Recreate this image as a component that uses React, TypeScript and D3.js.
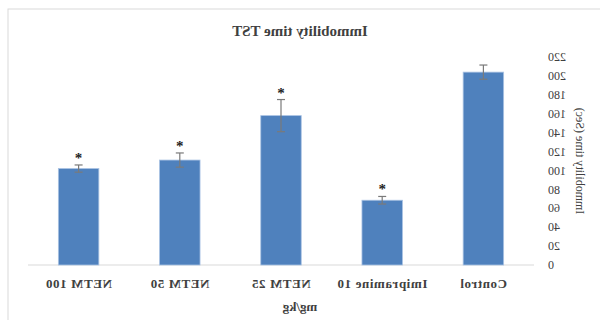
import React from "react";
import * as d3 from "d3";

const groups = ["Control", "Imipramine 10", "NETM 25", "NETM 50", "NETM 100"];
const means = [204, 68.5, 158, 111, 102];
const errors = [7.5, 4, 17, 7.5, 3.8];
const significant = [false, true, true, true, true];
const yTicks = [0, 20, 40, 60, 80, 100, 120, 140, 160, 180, 200, 220];

const width = 600;
const height = 320;
const margin = { top: 57, right: 28, bottom: 55, left: 66 };

export default function App() {
  const innerW = width - margin.left - margin.right;
  const innerH = height - margin.top - margin.bottom;

  const x = d3.scaleBand().domain(groups).range([0, innerW]).paddingInner(0.6).paddingOuter(0.3);
  const y = d3.scaleLinear().domain([0, 220]).range([innerH, 0]);

  const font = "'Liberation Serif', 'Times New Roman', serif";
  const textCol = "#404040";

  return (
    <svg width={width} height={height} style={{ position: "absolute", left: 0, top: 0 }} fontFamily={font}>
      <rect width={width} height={height} fill="#fff" />
      {/* whole chart is drawn normally, then flipped like the source image */}
      <g transform={`translate(${width},0) scale(-1,1)`}>
        <rect x={-2} y={9} width={594} height={320} fill="#fff" stroke="#d9d9d9" />
        <text x={300} y={36} textAnchor="middle" fontSize={15} fontWeight="bold" fill={textCol}>
          Immobility time TST
        </text>
        <g transform={`translate(${margin.left},${margin.top})`}>
          <line x1={0} x2={innerW} y1={innerH} y2={innerH} stroke="#d9d9d9" />
          {yTicks.map(t => (
            <text key={t} x={-14} y={y(t)} dy="0.35em" textAnchor="end" fontSize={12} fill={textCol}>
              {t}
            </text>
          ))}
          {groups.map((g, i) => {
            const cx = x(g)! + x.bandwidth() / 2;
            return (
              <g key={g}>
                <rect x={x(g)} y={y(means[i])} width={x.bandwidth()} height={innerH - y(means[i])}
                  fill="#4f81bd" stroke="#a9c2e3" strokeWidth={0.8} />
                <line x1={cx} x2={cx} y1={y(means[i] - errors[i])} y2={y(means[i] + errors[i])} stroke="#7a7a7a" strokeWidth={1.2} />
                <line x1={cx - 4} x2={cx + 4} y1={y(means[i] + errors[i])} y2={y(means[i] + errors[i])} stroke="#7a7a7a" strokeWidth={1.2} />
                <line x1={cx - 4} x2={cx + 4} y1={y(means[i] - errors[i])} y2={y(means[i] - errors[i])} stroke="#7a7a7a" strokeWidth={1.2} />
                {significant[i] && (
                  <text x={cx} y={y(means[i] + errors[i]) - 2} textAnchor="middle" fontSize={15} fontWeight="bold" fill="#222">*</text>
                )}
                <text x={cx} y={innerH + 23} textAnchor="middle" fontSize={13} fontWeight="bold" letterSpacing={0.6} fill={textCol}>
                  {g}
                </text>
              </g>
            );
          })}
          <text x={innerW / 2 - 19} y={innerH + 46} textAnchor="middle" fontSize={13} fontWeight="bold" fill={textCol}>
            mg/kg
          </text>
          <text transform={`translate(${-42},${innerH / 2}) rotate(-90)`} textAnchor="middle" fontSize={12} fill={textCol}>
            Immobility time (Sec)
          </text>
        </g>
      </g>
    </svg>
  );
}
